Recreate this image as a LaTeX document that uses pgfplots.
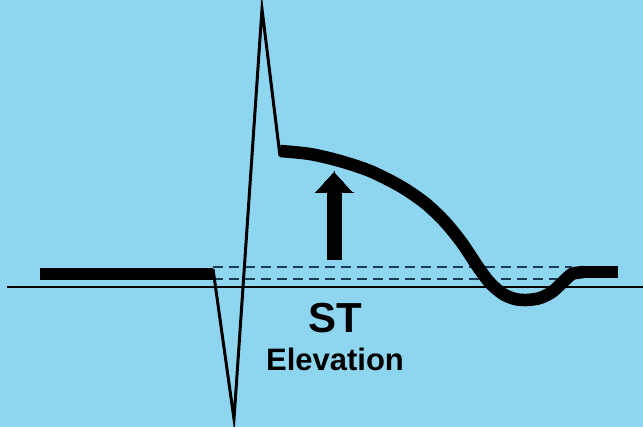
\documentclass[border=0pt]{standalone}
\usepackage{fontspec}
\setmainfont{Liberation Sans}
\usepackage{pgfplots}
\pgfplotsset{compat=1.18}
\definecolor{bgblue}{RGB}{142,214,240}
\definecolor{dashblue}{RGB}{25,60,85}
\begin{document}
\begin{tikzpicture}
\begin{axis}[
  scale only axis,
  width=643pt, height=427pt,
  xmin=0, xmax=643, ymin=0, ymax=427,
  y dir=reverse,
  axis line style={draw=none},
  ticks=none,
  axis background/.style={fill=bgblue},
  clip=true,
]
% reference line
\addplot[black, line width=2pt] coordinates {(7,287) (643,287)};
% dashed ST reference levels
\addplot[dashblue, line width=2pt, dash pattern=on 10pt off 6pt] coordinates {(213,267) (572,267)};
\addplot[dashblue, line width=2pt, dash pattern=on 10pt off 6pt] coordinates {(213,279) (572,279)};
% baseline before QRS
\addplot[black, line width=12.5pt] coordinates {(40,274) (213,274)};
% QRS complex
\addplot[black, line width=3pt, line join=miter, miter limit=20] coordinates {
(213,269) (234,419) (262,9) (280,156)};
% elevated ST segment and T wave
\addplot[black, line width=12.5pt, smooth, tension=0.5] coordinates {
(280,151) (310,154) (340,161) (370,171) (400,186) (425,203) (445,222)
(462,243) (478,267) (490,283) (503,294) (515,299) (527,300) (540,298)
(552,292) (563,282) (572,274) (584,272)};
\addplot[black, line width=12.5pt] coordinates {(582,272) (618,272)};
% arrow
\addplot[black, fill=black, line width=0pt] coordinates {
(327,260) (341,260) (341,193) (353,193) (334,172) (315,193) (327,193) (327,260)} -- cycle;
\node[font=\fontsize{42}{44}\selectfont\bfseries] at (axis cs:335,318) {ST};
\node[font=\fontsize{31}{33}\selectfont\bfseries] at (axis cs:335,359) {Elevation};
\end{axis}
\end{tikzpicture}
\end{document}
